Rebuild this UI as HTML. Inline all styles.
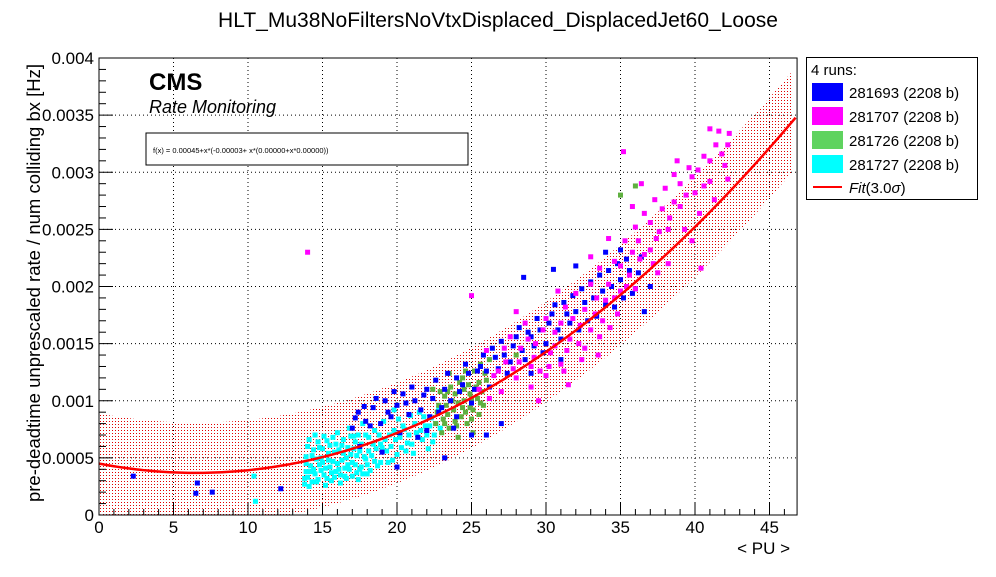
<!DOCTYPE html>
<html><head><meta charset="utf-8"><style>
body{margin:0;background:#fff;font-family:"Liberation Sans",sans-serif}
svg text{font-family:"Liberation Sans",sans-serif}
</style></head><body>
<svg id="c" width="996" height="572" xmlns="http://www.w3.org/2000/svg">
<defs><pattern id="dots" width="3" height="3" patternUnits="userSpaceOnUse"><rect x="1" y="1" width="1" height="1" fill="#e00000"/></pattern></defs>
<text x="498" y="27" font-size="21" text-anchor="middle">HLT_Mu38NoFiltersNoVtxDisplaced_DisplacedJet60_Loose</text>
<g id="plot"></g>
<text transform="translate(40,283) rotate(-90)" font-size="18.5" text-anchor="middle">pre-deadtime unprescaled rate / num colliding bx [Hz]</text>
<text x="790" y="554" font-size="17" text-anchor="end">&lt; PU &gt;</text>
<text x="149" y="90" font-size="24" font-weight="bold">CMS</text>
<text x="149" y="113" font-size="18" font-style="italic">Rate Monitoring</text>
<g><rect x="146" y="133" width="322" height="32" fill="#fff" stroke="#000"/>
<text x="153" y="153" font-size="7.5">f(x) = 0.00045+x*(-0.00003+ x*(0.00000+x*0.00000))</text></g>
<g>
<rect x="806.5" y="57.5" width="171" height="142" fill="#fff" stroke="#000"/>
<text x="811" y="75" font-size="15">4 runs:</text>
<rect x="812" y="83" width="31" height="18" fill="#0000ff"/>
<text x="849" y="98" font-size="15">281693 (2208 b)</text>
<rect x="812" y="107" width="31" height="18" fill="#ff00ff"/>
<text x="849" y="122" font-size="15">281707 (2208 b)</text>
<rect x="812" y="131" width="31" height="18" fill="#5fd35f"/>
<text x="849" y="146" font-size="15">281726 (2208 b)</text>
<rect x="812" y="155" width="31" height="18" fill="#00ffff"/>
<text x="849" y="170" font-size="15">281727 (2208 b)</text>
<line x1="813" y1="187" x2="842" y2="187" stroke="#f00" stroke-width="2"/>
<text x="849" y="193" font-size="15"><tspan font-style="italic">Fit</tspan>(3.0<tspan font-style="italic">σ</tspan>)</text>
</g>
</svg>
<script>
const xTicks=[0,5,10,15,20,25,30,35,40,45];
const yTicks=[0,0.0005,0.001,0.0015,0.002,0.0025,0.003,0.0035,0.004];
const yTickLabels=["0","0.0005","0.001","0.0015","0.002","0.0025","0.003","0.0035","0.004"];
const fitCoef=[0.00045,-0.000025,0.00000192];
const bandHalf=0.00044;
// points: [PU, rate in 1e-4 Hz]
const run281727=[[13.8,3.2],[13.9,4.5],[14.0,6.0],[14.2,3.8],[14.3,5.2],[14.5,7.0],[14.6,2.9],[14.8,4.4],[15.0,5.8],[15.1,3.5],[15.3,6.5],[15.4,4.8],[15.6,3.0],[15.8,5.5],[16.0,7.2],[16.1,4.0],[16.3,6.1],[16.5,3.4],[16.6,5.0],[16.8,7.6],[17.0,4.6],[17.2,6.4],[17.3,3.7],[17.5,5.6],[17.7,8.0],[17.9,4.9],[18.1,6.8],[18.3,5.2],[18.5,7.4],[18.7,4.3],[18.9,6.2],[19.1,8.2],[19.3,5.6],[19.5,7.0],[19.7,4.8],[19.9,6.6],[20.1,8.4],[20.3,5.9],[20.5,7.5],[20.7,6.3],[20.9,8.7],[21.1,5.4],[21.3,7.2],[21.5,9.0],[21.7,6.6],[21.9,7.8],[22.1,5.8],[22.3,8.5],[22.5,7.0],[22.8,9.3],[15.2,2.6],[16.2,2.8],[17.4,3.1],[14.1,2.5],[18.0,3.6],[10.4,3.4],[10.5,1.2],[19.8,9.2],[16.9,6.9],[15.7,6.8],[14.4,4.0],[14.9,5.0],[15.5,4.2],[16.4,5.4],[17.1,5.8],[13.9,3.8],[14.7,6.4],[15.9,3.8],[16.7,4.4],[17.6,4.2],
[13.8,2.7],[13.9,5.1],[14.0,3.3],[14.1,6.6],[14.2,4.3],[14.3,2.9],[14.4,5.7],[14.5,3.6],[14.6,4.9],[14.7,3.1],[14.8,5.9],[14.9,3.9],[15.0,4.6],[15.1,6.9],[15.2,4.1],[15.3,3.2],[15.4,5.4],[15.5,6.1],[15.6,3.7],[15.7,4.7],[15.8,3.3],[15.9,6.2],[16.0,4.5],[16.1,5.7],[16.2,3.5],[16.3,4.8],[16.4,6.6],[16.5,4.1],[16.6,3.2],[16.7,5.9],[16.8,4.0],[16.9,5.3],[17.0,3.4],[17.1,6.9],[17.2,4.4],[17.3,5.2],[17.4,7.0],[17.5,4.0],[17.6,6.2],[17.7,3.6],[17.8,5.1],[17.9,7.0],[18.0,4.4],[18.1,5.6],[18.2,3.9],[18.4,6.2],[18.5,4.7],[18.6,5.8],[18.8,7.0],[18.9,4.6],[19.0,5.9],[19.2,6.6],[19.4,4.6],[19.6,6.0],[19.8,7.4],[20.0,5.3],[20.2,6.8],[20.4,7.8],[20.6,5.6],[20.8,7.0],[21.0,6.2],[21.2,8.0],[21.4,6.8],[21.6,7.4],[21.8,8.6],[22.0,7.0],[22.2,7.8],[22.4,6.4],[22.6,8.0],[22.9,7.6]];
const run281693=[[2.3,3.4],[6.5,1.9],[6.6,2.8],[7.6,2.0],[12.2,2.3],[17.2,8.5],[17.5,6.0],[17.8,9.5],[18.2,7.8],[18.6,10.2],[19.0,5.5],[19.4,9.0],[19.8,10.8],[20.2,7.2],[20.6,9.8],[21.0,11.2],[21.4,6.8],[21.8,10.5],[22.2,8.6],[22.6,11.8],[23.0,9.4],[23.4,12.4],[23.8,7.6],[24.2,10.8],[24.6,13.2],[25.0,9.8],[25.4,12.6],[25.8,14.0],[26.2,11.2],[26.6,13.8],[27.0,15.2],[27.4,12.4],[27.8,14.8],[28.2,16.4],[28.6,13.6],[29.0,15.6],[29.4,17.2],[29.8,14.2],[30.2,16.8],[30.6,18.4],[31.0,15.4],[31.4,17.6],[31.8,19.2],[32.2,16.2],[32.6,18.6],[33.0,20.4],[33.4,17.4],[33.8,19.6],[34.2,21.4],[34.6,18.2],[35.0,20.6],[35.4,22.4],[35.8,19.4],[36.2,21.2],[36.6,17.8],[37.0,20.0],[26.0,7.0],[27.0,8.0],[28.5,20.8],[30.5,21.5],[23.2,5.0],[20.0,4.2],
[17.0,7.6],[17.4,9.0],[17.9,8.2],[18.4,9.4],[18.9,8.0],[19.2,10.0],[19.6,8.6],[20.0,9.6],[20.4,10.6],[20.8,8.8],[21.2,10.0],[21.6,9.2],[22.0,11.0],[22.4,10.2],[22.8,9.0],[23.2,11.0],[23.6,10.0],[24.0,12.0],[24.4,11.4],[24.8,12.4],[25.2,11.0],[25.6,13.0],[26.0,12.6],[26.4,14.6],[26.8,12.8],[27.2,14.0],[27.6,13.4],[28.0,15.6],[28.4,14.4],[28.8,16.0],[29.2,14.8],[29.6,16.2],[30.0,15.0],[30.4,17.6],[30.8,16.2],[31.2,18.6],[31.6,16.8],[32.0,17.8],[32.4,19.8],[32.8,17.0],[33.2,19.0],[33.6,21.0],[34.0,18.4],[34.4,20.0],[34.8,22.0],[35.2,19.0],[35.6,21.4],[36.0,19.8],[36.4,22.6],[35.0,23.2],[34.0,23.0],[32.0,21.8],[29.0,12.4],[31.0,13.6],[24.0,8.6],[25.0,7.0],[22.0,7.4]];
const run281726=[[22.6,8.0],[22.8,9.6],[23.0,7.2],[23.2,10.4],[23.4,8.8],[23.6,11.2],[23.8,9.2],[24.0,7.8],[24.2,10.8],[24.4,12.0],[24.6,9.0],[24.8,11.4],[25.0,8.4],[25.2,12.6],[25.4,10.2],[25.6,13.2],[25.8,9.6],[26.0,11.8],[24.1,6.8],[25.1,7.2],[23.5,12.4],[26.2,13.6],[35.0,28.0],[36.0,28.8],[28.0,14.0],[22.4,11.0],[24.5,10.0],[23.9,10.6],[25.5,11.6],[24.9,9.4],
[22.7,9.0],[22.9,10.8],[23.1,8.4],[23.3,9.6],[23.5,7.6],[23.7,10.0],[23.9,8.2],[24.1,9.8],[24.3,8.6],[24.5,11.0],[24.7,8.0],[24.9,10.6],[25.1,9.2],[25.3,11.2],[25.5,8.8],[25.7,10.8],[25.9,12.4],[24.2,11.6],[23.4,10.8],[25.6,9.8],[24.6,12.6],[23.2,8.0],[25.0,10.2],[24.4,9.4]];
const run281707=[[25.5,11.0],[26.0,14.4],[26.5,12.2],[27.0,10.8],[27.3,13.4],[27.6,15.6],[28.0,12.0],[28.3,14.6],[28.6,16.8],[29.0,13.0],[29.3,15.0],[29.6,12.6],[30.0,17.2],[30.3,14.2],[30.6,16.0],[31.0,13.2],[31.3,18.2],[31.6,15.4],[32.0,19.4],[32.3,16.6],[32.6,14.6],[33.0,20.2],[33.3,17.6],[33.6,21.6],[34.0,18.8],[34.3,16.4],[34.6,22.2],[35.0,19.6],[35.3,24.0],[35.6,21.0],[36.0,25.2],[36.3,22.4],[36.6,26.4],[37.0,23.2],[37.3,27.6],[37.6,24.8],[38.0,28.6],[38.3,26.0],[38.6,29.8],[39.0,27.0],[39.3,25.0],[39.6,30.4],[40.0,28.2],[40.3,26.4],[40.6,31.4],[41.0,29.2],[41.3,27.6],[41.6,33.6],[42.0,30.6],[42.3,33.4],[41.0,33.8],[40.4,21.6],[38.2,22.0],[37.5,21.2],[36.4,29.0],[35.2,31.8],[14.0,23.0],[25.0,19.2],[29.5,10.0],[31.5,11.4],[33.5,14.0],[39.8,24.0],[42.2,32.4],[28.0,17.8],[30.8,19.6],
[26.2,10.2],[26.8,12.6],[27.2,14.6],[27.8,12.8],[28.2,13.4],[28.8,15.4],[29.2,13.8],[29.8,16.2],[30.2,13.0],[30.6,14.8],[31.0,16.8],[31.4,14.4],[31.8,17.2],[32.2,15.0],[32.6,18.0],[33.0,16.2],[33.4,19.0],[33.8,17.0],[34.2,20.2],[34.6,19.0],[35.0,21.8],[35.4,20.0],[35.8,23.0],[36.2,24.0],[36.6,22.8],[37.0,25.6],[37.4,24.2],[37.8,26.8],[38.2,25.0],[38.6,27.4],[39.0,29.0],[39.4,28.0],[39.8,29.6],[40.2,30.2],[40.6,28.8],[41.0,31.0],[41.4,32.4],[41.8,31.6],[42.2,29.4],[29.0,11.2],[30.0,12.2],[31.2,12.6],[32.4,13.6],[33.6,15.6],[34.8,17.6],[36.0,19.8],[37.2,22.0],[34.2,24.2],[33.0,22.6],[35.8,27.0],[38.8,31.0]];

const X0=99,XS=14.9,Y0=515,YS=457/0.004,XMAX=46.85;
const sx=v=>X0+v*XS, sy=v=>Y0-v*YS;
const NS="http://www.w3.org/2000/svg";
const plot=document.getElementById('plot');
function mk(t,a,p){const e=document.createElementNS(NS,t);for(const k in a)e.setAttribute(k,a[k]);(p||plot).appendChild(e);return e;}
const f=x=>fitCoef[0]+fitCoef[1]*x+fitCoef[2]*x*x;
const clip=mk('clipPath',{id:'pc'});mk('rect',{x:X0,y:58,width:sx(XMAX)-X0,height:Y0-58},clip);
const grid=mk('g',{});


xTicks.forEach(t=>{if(t>0)mk('line',{x1:sx(t),x2:sx(t),y1:58,y2:Y0,stroke:'#000','stroke-dasharray':'1,3'},grid);});
yTicks.forEach(t=>{if(t>0&&t<0.004)mk('line',{x1:X0,x2:sx(XMAX),y1:sy(t),y2:sy(t),stroke:'#000','stroke-dasharray':'1,3'},grid);});
let up=[],dn=[];
for(let x=0;x<=XMAX+0.01;x+=0.5){up.push(sx(x)+','+sy(f(x)+bandHalf));dn.unshift(sx(x)+','+sy(f(x)-bandHalf));}
const band=mk('polygon',{points:up.concat(dn).join(' '),fill:'url(#dots)','clip-path':'url(#pc)'});


function series(arr,col,name){const g=mk('g',{fill:col,'clip-path':'url(#pc)'});


arr.forEach(p=>mk('rect',{x:sx(p[0])-2.5,y:sy(p[1]*1e-4)-2.5,width:5,height:5},g));}
series(run281727,'#00ffff','series-281727');
series(run281726,'#5fb040','series-281726');
series(run281693,'#0000ff','series-281693');
series(run281707,'#ff00ff','series-281707');
let pts=[];for(let x=0;x<=XMAX+0.01;x+=0.25)pts.push(sx(x)+','+sy(f(x)));
const fl=mk('polyline',{points:pts.join(' '),fill:'none',stroke:'#f00','stroke-width':2.5,'clip-path':'url(#pc)'});


const fr=mk('rect',{x:X0,y:58,width:sx(XMAX)-X0,height:Y0-58,fill:'none',stroke:'#000'});


const ax=mk('g',{stroke:'#000'});


for(let i=0;i<=46;i++){const L=i%5==0?12:6;mk('line',{x1:sx(i),x2:sx(i),y1:Y0,y2:Y0-L},ax);}
for(let i=0;i<=40;i++){const v=i*0.0001;const L=i%5==0?14:7;mk('line',{x1:X0,x2:X0+L,y1:sy(v),y2:sy(v)},ax);}
xTicks.forEach(t=>{const e=mk('text',{x:sx(t),y:533,'font-size':17,'text-anchor':'middle'});e.textContent=t;

});
yTicks.forEach((t,i)=>{const e=mk('text',{x:94,y:sy(t)+6,'font-size':17,'text-anchor':'end'});e.textContent=yTickLabels[i];

});
</script>
</body></html>
